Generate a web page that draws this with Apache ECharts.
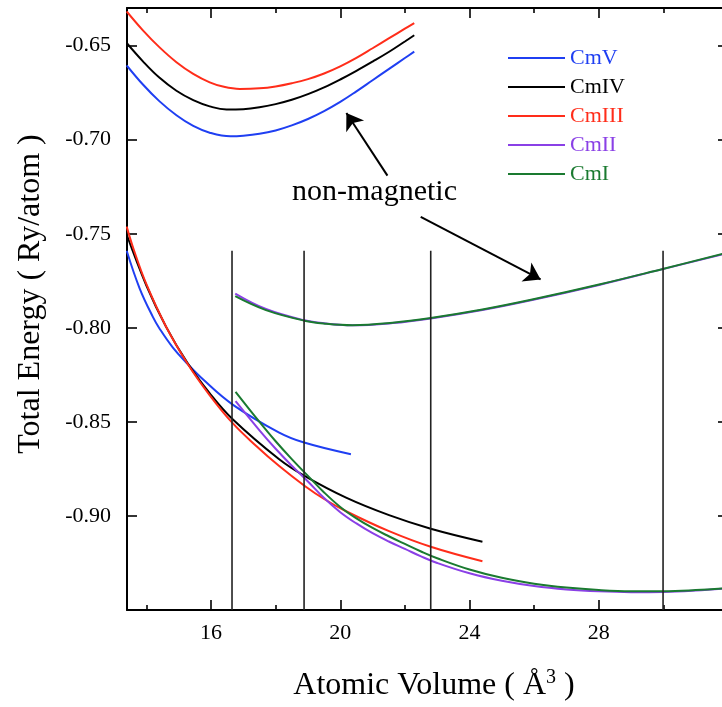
<!DOCTYPE html>
<html>
<head>
<meta charset="utf-8">
<script src="https://cdn.jsdelivr.net/npm/echarts@6/dist/echarts.min.js"></script>
<style>
  html, body { margin: 0; background: #fff; }
  #main { width: 722px; height: 707px; }
</style>
</head>
<body>
<div id="main"></div>
<script>
// upper (non-magnetic) branches of CmV / CmIV / CmIII
const cmV_nm = [[13.39,-0.6605],[13.9,-0.6708],[14.4,-0.6795],[14.93,-0.6870],[15.45,-0.6927],[15.96,-0.6963],[16.6,-0.6982],[17.0,-0.6979],[17.5,-0.6969],[18.0,-0.6951],[18.5,-0.6924],[19.0,-0.6890],[19.5,-0.6848],[20.0,-0.6799],[20.5,-0.6743],[21.0,-0.6684],[21.5,-0.6625],[22.0,-0.6566],[22.29,-0.6532]]
const cmIV_nm = [[13.39,-0.6486],[13.9,-0.6585],[14.4,-0.6670],[14.93,-0.6740],[15.45,-0.6790],[15.96,-0.6823],[16.48,-0.6840],[17.0,-0.6838],[17.5,-0.6828],[18.0,-0.6811],[18.5,-0.6788],[19.0,-0.6758],[19.5,-0.6722],[20.0,-0.6680],[20.5,-0.6634],[21.0,-0.6585],[21.5,-0.6534],[22.0,-0.6478],[22.29,-0.6445]]
const cmIII_nm = [[13.39,-0.6318],[13.9,-0.6420],[14.4,-0.6508],[14.93,-0.6588],[15.45,-0.6650],[15.96,-0.6695],[16.4,-0.6719],[16.89,-0.6730],[17.5,-0.6727],[18.0,-0.6717],[18.5,-0.6700],[19.0,-0.6678],[19.5,-0.6648],[20.0,-0.6610],[20.5,-0.6565],[21.0,-0.6514],[21.5,-0.6462],[22.0,-0.6410],[22.29,-0.6380]]
// CmII / CmI non-magnetic branch (middle curve)
const cmII_nm = [[16.75,-0.7818],[17.7,-0.7900],[18.89,-0.7960],[19.56,-0.7977],[20.38,-0.7987],[21.62,-0.7975],[22.8,-0.7950],[24.4,-0.7905],[25.94,-0.7852],[28.01,-0.7772],[29.98,-0.7688],[32.0,-0.7602]]
const cmI_nm = [[16.75,-0.7832],[17.7,-0.7906],[18.89,-0.7962],[19.56,-0.7978],[20.38,-0.7986],[21.62,-0.7973],[22.8,-0.7948],[24.4,-0.7903],[25.94,-0.7850],[28.01,-0.7770],[29.98,-0.7687],[32.0,-0.7600]]
// magnetic branches (lower curves)
const cmV = [[13.39,-0.7590],[13.79,-0.7790],[14.2,-0.7942],[14.4,-0.8002],[14.82,-0.8105],[15.28,-0.8193],[15.75,-0.8274],[16.67,-0.8408],[18.11,-0.8557],[18.88,-0.8610],[20.33,-0.8672]]
const cmIV = [[13.39,-0.7504],[14.0,-0.7775],[14.61,-0.7995],[15.28,-0.8189],[15.95,-0.8346],[16.67,-0.8486],[18.11,-0.8699],[18.88,-0.8786],[20.18,-0.8903],[21.51,-0.8996],[22.8,-0.9068],[24.4,-0.9137]]
const cmIII = [[13.39,-0.7462],[13.6,-0.7580],[14.0,-0.7768],[14.61,-0.7994],[15.28,-0.8192],[15.95,-0.8356],[16.67,-0.8507],[17.4,-0.8628],[18.11,-0.8735],[18.88,-0.8838],[19.5,-0.8910],[20.18,-0.8975],[21.51,-0.9081],[22.8,-0.9164],[24.4,-0.9241]]
const cmII = [[16.76,-0.8390],[17.5,-0.8545],[18.0,-0.8643],[18.5,-0.8733],[19.0,-0.8817],[19.5,-0.8905],[20.0,-0.8980],[20.5,-0.9040],[21.0,-0.9092],[21.5,-0.9136],[22.0,-0.9175],[22.5,-0.9215],[23.0,-0.9250],[24.0,-0.9305],[25.0,-0.9345],[26.0,-0.9373],[27.0,-0.9391],[28.0,-0.9401],[29.0,-0.9405],[30.0,-0.9404],[31.0,-0.9397],[32.0,-0.9385]]
const cmI = [[16.76,-0.8340],[17.5,-0.8500],[18.0,-0.8603],[18.5,-0.8698],[19.0,-0.8787],[19.5,-0.8875],[20.0,-0.8952],[20.5,-0.9013],[21.0,-0.9064],[21.5,-0.9108],[22.0,-0.9149],[22.5,-0.9189],[23.0,-0.9225],[24.0,-0.9285],[25.0,-0.9329],[26.0,-0.9360],[27.0,-0.9381],[28.0,-0.9394],[29.0,-0.9400],[30.0,-0.9400],[31.0,-0.9394],[32.0,-0.9383]]

// vertical markers and arrows
const vLineX = [16.65, 18.88, 22.80, 29.99]
const vLineTop = -0.759
const arrows = [[[21.46,-0.7191],[20.19,-0.6858]], [[22.49,-0.7410],[26.20,-0.7743]]]

const xMajor = [16, 20, 24, 28]
const xMinor = [14, 18, 22, 26, 30]
const yMajor = [-0.90, -0.85, -0.80, -0.75, -0.70, -0.65]

const colors = { CmV: '#1f3ff2', CmIV: '#000000', CmIII: '#ff2d1a', CmII: '#8a40e6', CmI: '#1a7a30' }
const serif = 'Liberation Serif'

const chart = echarts.init(document.getElementById('main'))

function curve(name, data) {
  return {
    type: 'line', name: name, data: data,
    symbol: 'none', smooth: 0.4,
    lineStyle: { color: colors[name], width: 2 },
    itemStyle: { color: colors[name] },
    silent: true
  }
}

function xAx(pos, ticks, len, showLine, labels, extra) {
  return Object.assign({
    type: 'value', position: pos, min: 13.4, max: 32,
    axisLine: { show: showLine, onZero: false, lineStyle: { color: '#000', width: 2 } },
    axisTick: { show: true, inside: true, length: len, customValues: ticks, lineStyle: { color: '#000', width: 1.6 } },
    axisLabel: labels ? { customValues: ticks, fontFamily: serif, fontSize: 22, color: '#000', margin: 12 } : { show: false },
    splitLine: { show: false }
  }, extra || {})
}

const series = [
  curve('CmV', cmV_nm), curve('CmIV', cmIV_nm), curve('CmIII', cmIII_nm),
  curve('CmII', cmII_nm), curve('CmI', cmI_nm),
  curve('CmV', cmV), curve('CmIV', cmIV), curve('CmIII', cmIII),
  curve('CmII', cmII), curve('CmI', cmI)
]
vLineX.forEach(function (x) {
  series.push({
    type: 'line', data: [[x, vLineTop], [x, -0.95]], symbol: 'none', silent: true,
    lineStyle: { color: '#222', width: 1.6 }
  })
})
series.push({
  type: 'lines', coordinateSystem: 'cartesian2d', silent: true,
  symbol: ['none', 'arrow'], symbolSize: 16,
  lineStyle: { color: '#000', width: 2, opacity: 1 },
  data: arrows.map(function (a) { return { coords: a } })
})

chart.setOption({
  animation: false,
  backgroundColor: '#fff',
  grid: { left: 127, right: -6, top: 8, bottom: 97, outerBoundsMode: 'none' },
  legend: {
    left: 503, top: 42, orient: 'vertical',
    icon: 'rect', itemWidth: 57, itemHeight: 2, itemGap: 7, selectedMode: false,
    textStyle: { fontFamily: serif, fontSize: 22, lineHeight: 22 },
    data: ['CmV', 'CmIV', 'CmIII', 'CmII', 'CmI'].map(function (n) {
      return { name: n, textStyle: { color: colors[n] } }
    })
  },
  xAxis: [
    xAx('bottom', xMajor, 10, true, true, {
      name: 'Atomic Volume ( Å{sup|3} )', nameLocation: 'middle', nameGap: 58,
      nameTextStyle: {
        fontFamily: serif, fontSize: 32, color: '#000', padding: [0, 0, 0, 13],
        rich: { sup: { fontFamily: serif, fontSize: 20, color: '#000', padding: [0, 0, 16, 0] } }
      }
    }),
    xAx('bottom', xMinor, 5, false, false),
    xAx('top', xMajor, 10, true, false),
    xAx('top', xMinor, 5, false, false)
  ],
  yAxis: [
    {
      type: 'value', position: 'left', min: -0.95, max: -0.63,
      axisLine: { show: true, onZero: false, lineStyle: { color: '#000', width: 2 } },
      axisTick: { inside: true, length: 10, customValues: yMajor, lineStyle: { color: '#000', width: 1.6 } },
      axisLabel: {
        customValues: yMajor, fontFamily: serif, fontSize: 22, color: '#000', margin: 16,
        formatter: function (v) { return v.toFixed(2) }
      },
      splitLine: { show: false },
      name: 'Total Energy ( Ry/atom )', nameLocation: 'middle', nameGap: 80, nameRotate: 90,
      nameTextStyle: { fontFamily: serif, fontSize: 32, color: '#000', padding: [0, 0, 0, 30] }
    },
    {
      type: 'value', position: 'right', min: -0.95, max: -0.63,
      axisLine: { show: true, onZero: false, lineStyle: { color: '#000', width: 2 } },
      axisTick: { inside: true, length: 10, customValues: yMajor, lineStyle: { color: '#000', width: 1.6 } },
      axisLabel: { show: false },
      splitLine: { show: false }
    }
  ],
  graphic: [{
    type: 'text', left: 292, top: 177, silent: true,
    style: { text: 'non-magnetic', font: '30px "Liberation Serif"', fill: '#000' }
  }],
  series: series
})
</script>
</body>
</html>
